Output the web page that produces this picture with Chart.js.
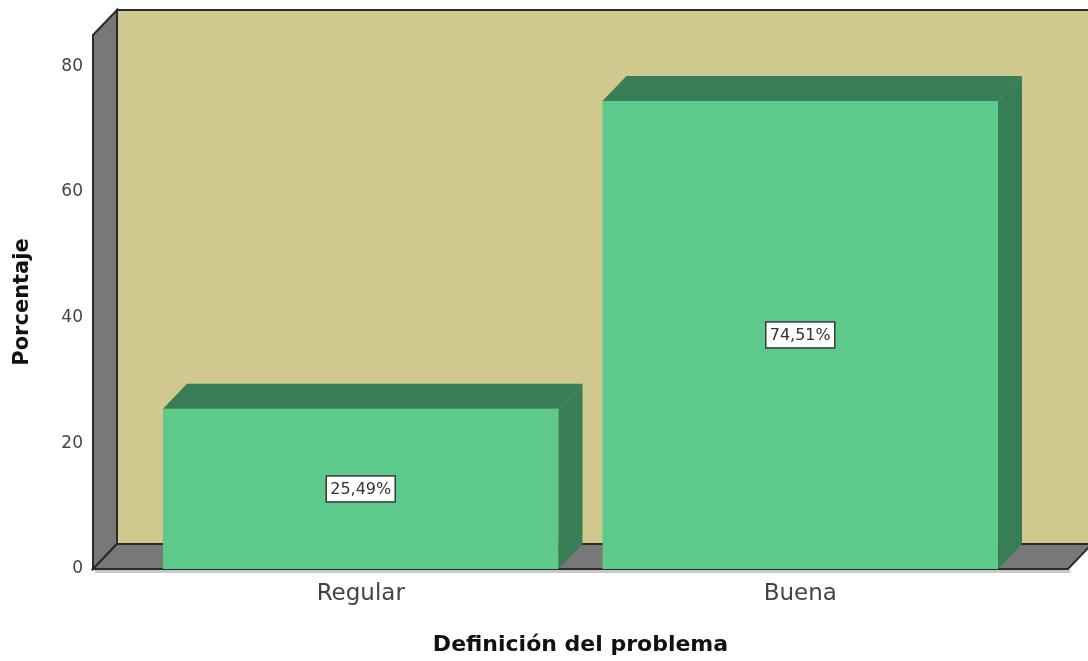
<!DOCTYPE html>
<html>
<head>
<meta charset="utf-8">
<script src="https://cdn.jsdelivr.net/npm/chart.js@4/dist/chart.umd.min.js"></script>
<style>
  html, body { margin: 0; padding: 0; background: #ffffff; }
  #wrap { width: 1088px; height: 661px; }
</style>
</head>
<body>
<div id="wrap"><canvas id="grafico" width="1088" height="661"></canvas></div>
<script>
// datos
const categorias = ['Regular', 'Buena'];
const porcentajes = [25.49, 74.51];
const ticksY = [0, 20, 40, 60, 80];

// colores y profundidad del efecto 3D
const colorPared = '#d0c98e';
const colorGris = '#787878';
const colorBorde = '#2a2a2a';
const colorBarra = '#5dc98a';
const colorBarraOscuro = '#377d55';
const DX = 24, DY = 25, EXTRA = 48;

function poligono(ctx, pts, relleno, trazo, ancho) {
    ctx.beginPath();
    ctx.moveTo(pts[0][0], pts[0][1]);
    for (let i = 1; i < pts.length; i++) ctx.lineTo(pts[i][0], pts[i][1]);
    ctx.closePath();
    if (relleno) { ctx.fillStyle = relleno; ctx.fill(); }
    if (trazo) { ctx.strokeStyle = trazo; ctx.lineWidth = ancho || 1; ctx.stroke(); }
}

// paredes, suelo y caras laterales de las barras
const efecto3D = {
    id: 'efecto3D',
    beforeDatasetsDraw(chart) {
        const ctx = chart.ctx;
        const a = chart.chartArea;
        const L = a.left - EXTRA, R = a.right + EXTRA, T = a.top, B = a.bottom;
        ctx.save();
        ctx.lineJoin = 'miter';
        // sombra bajo el suelo
        ctx.fillStyle = '#c8c8c8';
        ctx.fillRect(L + 2, B + 1, R - L, 3);
        // pared del fondo
        poligono(ctx, [[L + DX, T - DY], [R + DX + 10, T - DY], [R + DX + 10, B - DY], [L + DX, B - DY]], colorPared, colorBorde, 2);
        // pared izquierda
        poligono(ctx, [[L, B], [L, T], [L + DX, T - DY], [L + DX, B - DY]], colorGris, colorBorde, 2);
        // suelo
        poligono(ctx, [[L, B], [L + DX, B - DY], [R + DX, B - DY], [R, B]], colorGris, colorBorde, 2);
        ctx.restore();
    },
    afterDatasetsDraw(chart) {
        const ctx = chart.ctx;
        const meta = chart.getDatasetMeta(0);
        ctx.save();
        meta.data.forEach((bar, i) => {
            const p = bar.getProps(['x', 'y', 'base', 'width'], true);
            const x0 = p.x - p.width / 2, x1 = p.x + p.width / 2;
            // cara superior
            poligono(ctx, [[x0, p.y], [x0 + DX, p.y - DY], [x1 + DX, p.y - DY], [x1, p.y]], colorBarraOscuro);
            // cara lateral
            poligono(ctx, [[x1, p.y], [x1 + DX, p.y - DY], [x1 + DX, p.base - DY], [x1, p.base]], colorBarraOscuro);

            // etiqueta con el porcentaje
            const texto = porcentajes[i].toFixed(2).replace('.', ',') + '%';
            ctx.font = '16px "DejaVu Sans"';
            const w = ctx.measureText(texto).width + 8;
            const h = 26;
            const cy = (p.y + p.base) / 2;
            ctx.fillStyle = '#ffffff';
            ctx.fillRect(p.x - w / 2, cy - h / 2, w, h);
            ctx.strokeStyle = '#3a3a3a';
            ctx.lineWidth = 1.5;
            ctx.strokeRect(p.x - w / 2, cy - h / 2, w, h);
            ctx.fillStyle = '#333333';
            ctx.textAlign = 'center';
            ctx.textBaseline = 'middle';
            ctx.fillText(texto, p.x, cy + 1);
        });
        ctx.restore();
    }
};

const grafico = new Chart(document.getElementById('grafico'), {
    type: 'bar',
    data: {
        labels: categorias,
        datasets: [{
            label: 'Porcentaje',
            data: porcentajes,
            backgroundColor: colorBarra,
            borderWidth: 0,
            categoryPercentage: 0.9,
            barPercentage: 1.0
        }]
    },
    options: {
        responsive: false,
        devicePixelRatio: 1,
        animation: false,
        layout: { padding: { top: 35, right: 68, left: 0, bottom: 0 } },
        plugins: {
            legend: { display: false },
            tooltip: { enabled: false }
        },
        scales: {
            x: {
                grid: { display: false, drawTicks: false },
                border: { display: false },
                ticks: {
                    color: '#444444',
                    padding: 11,
                    font: { family: 'DejaVu Sans', size: 23 }
                },
                title: {
                    display: true,
                    text: 'Definición del problema',
                    color: '#111111',
                    padding: { top: 0, bottom: 3 },
                    font: { family: 'DejaVu Sans', size: 22, weight: 'bold' }
                },
                afterFit(scale) { scale.height = 92; }
            },
            y: {
                min: 0,
                max: 85,
                grid: { display: false, drawTicks: false },
                border: { display: false },
                ticks: {
                    color: '#444444',
                    padding: 58,
                    font: { family: 'DejaVu Sans', size: 17 }
                },
                afterBuildTicks(scale) {
                    scale.ticks = ticksY.map(v => ({ value: v }));
                },
                title: {
                    display: true,
                    text: 'Porcentaje',
                    color: '#111111',
                    padding: { top: 10, bottom: 0 },
                    font: { family: 'DejaVu Sans', size: 21, weight: 'bold' }
                },
                afterFit(scale) {
                    scale.width = 141;
                    // el padding de las marcas no debe empujar el área del gráfico
                    scale.paddingTop = 0;
                    scale.paddingBottom = 0;
                }
            }
        }
    },
    plugins: [efecto3D]
});
</script>
</body>
</html>
